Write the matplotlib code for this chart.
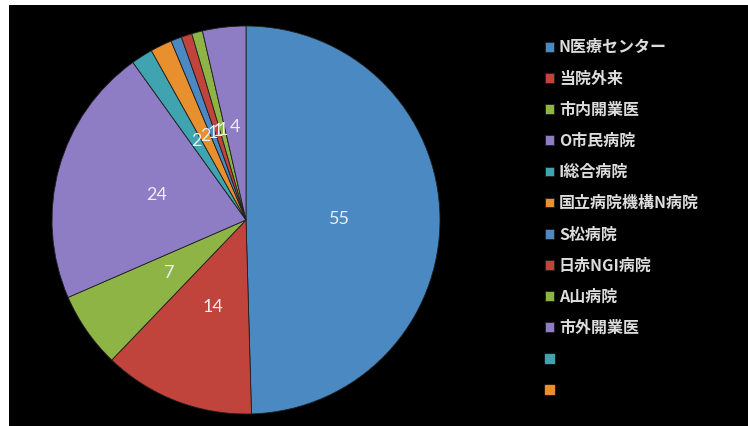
import matplotlib
matplotlib.use("Agg")
import matplotlib.pyplot as plt
from matplotlib.patches import Rectangle

plt.rcParams['font.family'] = ['Noto Sans CJK JP', 'DejaVu Sans']

categories = ["N医療センター", "当院外来", "市内開業医", "O市民病院", "I総合病院",
              "国立病院機構N病院", "S松病院", "日赤NGI病院", "A山病院", "市外開業医"]
values = [55, 14, 7, 24, 2, 2, 1, 1, 1, 4]
extra_legend = ["", ""]

palette = ["#4A89C2", "#C0443C", "#8FB446", "#8E7CC4", "#3FA3B0", "#E8902E"]
colors = [palette[i % len(palette)] for i in range(len(values))]

fig = plt.figure(figsize=(7.48, 4.26), dpi=100)
fig.patch.set_facecolor("white")
fig.add_artist(Rectangle((9/748, 0), 1 - 9/748, 1 - 5/426, transform=fig.transFigure,
                         facecolor="black", edgecolor="none", zorder=0))

R = 194
cx, cy = 246, 220
ax = fig.add_axes([(cx - R) / 748, (426 - cy - R) / 426, 2 * R / 748, 2 * R / 426])
wedges, texts = ax.pie(values, colors=colors, startangle=90, counterclock=False,
                       labels=[str(v) for v in values], labeldistance=0.48,
                       wedgeprops=dict(edgecolor="#202020", linewidth=0.6))
ax.set_xlim(-1, 1)
ax.set_ylim(-1, 1)
for t in texts:
    t.set_color("#EEEEEE")
    t.set_fontsize(13)
    t.set_family(['Lato', 'DejaVu Sans'])
    t.set_horizontalalignment("center")
    t.set_verticalalignment("center")
ax.set_facecolor("black")

handles = list(wedges) + [Rectangle((0, 0), 1, 1, color=palette[4]),
                          Rectangle((0, 0), 1, 1, color=palette[5])]
labels = categories + extra_legend
leg = fig.legend(handles, labels, loc="upper left", bbox_to_anchor=(539 / 748, 1 - 33 / 426),
                 frameon=False, fontsize=11.5, labelcolor="#DDDDDD",
                 handlelength=0.55, handleheight=0.55, handletextpad=0.3,
                 labelspacing=0.95, borderaxespad=0)
for t in leg.get_texts():
    t.set_fontweight("bold")

fig.savefig("out.png", dpi=100, facecolor=fig.get_facecolor())
